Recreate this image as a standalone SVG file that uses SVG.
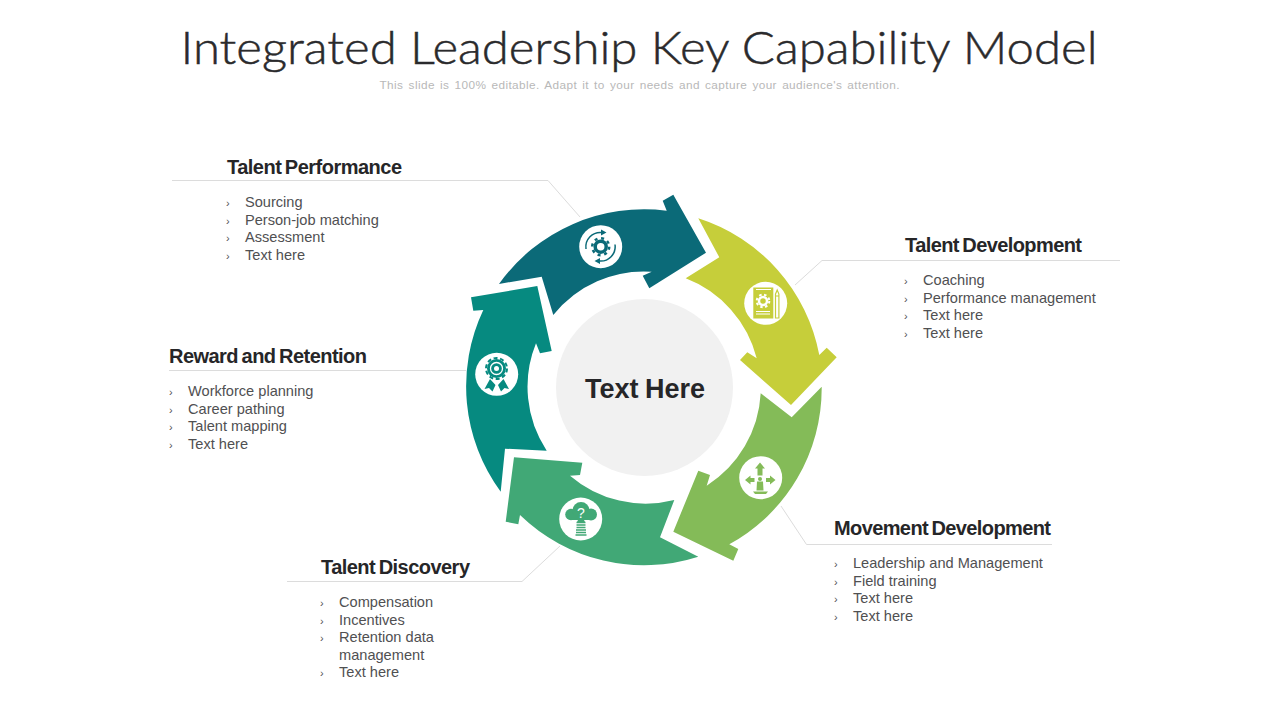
<svg xmlns="http://www.w3.org/2000/svg" width="1280" height="720" viewBox="0 0 1280 720">
<style>
text{font-family:"Liberation Sans",Arial,sans-serif}
.h{font-size:20px;font-weight:700;fill:#262628;word-spacing:-1.500px}
.b{font-size:14.600px;fill:#505052}
.m{font-size:11px;fill:#505052}
.l{fill:none;stroke:#dcdcdc;stroke-width:1}
.w{fill:#fff}
</style>
<rect width="1280" height="720" fill="#fff"/>
<g id="title">
<text x="639" y="64" text-anchor="middle" textLength="917" lengthAdjust="spacingAndGlyphs" style="font-family:'Lato','Liberation Sans',sans-serif;font-weight:300;font-size:46px;fill:#2a2a2c;stroke:#2a2a2c;stroke-width:.5px">Integrated Leadership Key Capability Model</text>
<text x="639.500" y="89" text-anchor="middle" textLength="520" style="font-size:11.800px;fill:#b8b8b8;word-spacing:1.500px">This slide is 100% editable. Adapt it to your needs and capture your audience's attention.</text>
</g>
<g id="connectors">
<path class="l" d="M172 180.500H548L580 217"/>
<path class="l" d="M1120 260.500H822L795 285"/>
<path class="l" d="M781 506L806.500 544.500H1052"/>
<path class="l" d="M287 581.500H522L560 546"/>
<path class="l" d="M169 370.500H466"/>
</g>
<g id="center"><circle cx="644.500" cy="387.500" r="88.500" fill="#f1f1f1"/><text x="645" y="398" text-anchor="middle" style="font-size:27px;font-weight:700;fill:#262628;word-spacing:-1px">Text Here</text></g>
<g id="arrow-performance">
<path fill="#0b6a78" d="M499 284A178 178 0 0 1 666.700 210.700L662.700 200.700L673.300 194.700L706 252.700L649.300 288.300L642.700 275.700L651.700 271.700A116 116 0 0 0 553.300 315L541.700 276.700Z"/>
<circle class="w" cx="600.700" cy="246.700" r="21.500"/>
<g fill="none" stroke="#0b6a78" stroke-width="1.500"><path d="M586 249A14.500 14.500 0 0 1 602 232.500"/><path d="M615 244.500A14.500 14.500 0 0 1 599 261"/></g>
<path fill="#0b6a78" d="M601 229.500l5.500 3-5.500 3zM600 258l-5.500 3 5.500 3z"/>
<circle cx="600.700" cy="246.700" r="5.500" fill="none" stroke="#0b6a78" stroke-width="3.500"/><circle cx="600.700" cy="246.700" r="8.500" fill="none" stroke="#0b6a78" stroke-width="2.500" stroke-dasharray="3 3.700"/>
</g>
<g id="arrow-development">
<path fill="#c6ce3a" d="M698.300 218.300A178 178 0 0 1 819.300 355L826.700 347.700L836.700 357.300L791 405L740 360L747.300 352.300L756.700 358.300A116 116 0 0 0 685.700 278.300L719.300 257.300Z"/>
<circle class="w" cx="765.700" cy="303.300" r="21.500"/>
<rect x="753.300" y="287.500" width="20" height="31" fill="#c6ce3a"/>
<circle cx="763" cy="301" r="4" fill="none" stroke="#fff" stroke-width="2.500"/><circle cx="763" cy="301" r="6.300" fill="none" stroke="#fff" stroke-width="2" stroke-dasharray="2.500 2.500"/>
<path stroke="#fff" stroke-width="1" fill="none" d="M756 289.500H771M756 311.500H770M756 314H770"/>
<path fill="none" stroke="#c6ce3a" stroke-width="1.200" d="M775.500 294l1.700-4 1.700 4V318H775.500ZM775.500 296H779"/>
</g>
<g id="arrow-movement">
<path fill="#84bb58" d="M821.700 386.700A178 178 0 0 1 729.300 544.300L738.300 549L733.300 560.700L673.300 531.700L698.300 470.700L710 475L706.700 485.700A117 117 0 0 0 760.700 393.300L791.700 417.300Z"/>
<circle class="w" cx="760.700" cy="477.700" r="21.500"/>
<path fill="#84bb58" d="M760 462.500l5 6h-2.500v7h-5v-7H755zM745 480l5.500-4.500v2.500h4v4h-4v2.500zM775.500 480l-5.500-4.500v2.500h-4v4h4v2.500z"/>
<circle cx="760" cy="479" r="2" fill="#84bb58"/><path fill="#84bb58" d="M757 481.500h6l.5 9h-7zM753 491.500h15l-2 2.500h-11z"/>
</g>
<g id="arrow-discovery">
<path fill="#41a876" d="M698.300 556.700A178 178 0 0 1 520 515L518.300 524.300L505.700 521.700L514 457.300L582.300 462.700L580 475L570 475.700A116 116 0 0 0 674.300 500L660 537.300Z"/>
<circle class="w" cx="580.700" cy="519" r="21.500"/>
<circle cx="571" cy="514.500" r="5.800" fill="#41a876"/><circle cx="581" cy="510.500" r="8.500" fill="#41a876"/><circle cx="591" cy="514.500" r="6" fill="#41a876"/>
<path fill="#41a876" d="M571 515h20v5h-7l1 2h-8l1-2h-7z"/>
<text x="581" y="518" text-anchor="middle" style="font-size:14px;fill:#fff">?</text>
<path stroke="#41a876" stroke-width="1.300" fill="none" d="M576.500 522.500h9M576.500 525h9M576.500 527.500h9M576 530h10M576 532.500h10M575.500 535h11"/>
</g>
<g id="arrow-retention">
<path fill="#068a80" d="M500.700 491.700A178 178 0 0 1 483.300 310L473.300 310.700L471 297.300L537.300 286L551.700 351L540 353.300L536 343.300A116 116 0 0 0 546.700 450.700L505 448.700Z"/>
<circle class="w" cx="496.700" cy="374.300" r="21.500"/>
<circle cx="496.500" cy="368.500" r="9.500" fill="#068a80"/><circle cx="496.500" cy="368.500" r="10.500" fill="none" stroke="#068a80" stroke-width="2" stroke-dasharray="4 2.600"/>
<circle cx="496.500" cy="368.500" r="6" fill="none" stroke="#fff" stroke-width="1.300"/><circle cx="496.500" cy="368.500" r="2.500" fill="#fff"/>
<path fill="#068a80" d="M490 379l5.500 6-3 6.500-3.500-3.500-4.500 1zM503.500 379l-5.500 6 3 6.500 3.500-3.500 4.500 1z"/>
</g>
<g id="label-performance">
<text class="h" x="227" y="174" textLength="175">Talent Performance</text>
<text class="m" x="226" y="207">›</text><text class="b" x="245" y="207">Sourcing</text>
<text class="m" x="226" y="225">›</text><text class="b" x="245" y="225">Person-job matching</text>
<text class="m" x="226" y="242">›</text><text class="b" x="245" y="242">Assessment</text>
<text class="m" x="226" y="260">›</text><text class="b" x="245" y="260">Text here</text>
</g>
<g id="label-development">
<text class="h" x="905" y="252" textLength="177">Talent Development</text>
<text class="m" x="904" y="285">›</text><text class="b" x="923" y="285">Coaching</text>
<text class="m" x="904" y="303">›</text><text class="b" x="923" y="303">Performance management</text>
<text class="m" x="904" y="320">›</text><text class="b" x="923" y="320">Text here</text>
<text class="m" x="904" y="338">›</text><text class="b" x="923" y="338">Text here</text>
</g>
<g id="label-movement">
<text class="h" x="834" y="535" textLength="217">Movement Development</text>
<text class="m" x="834" y="568">›</text><text class="b" x="853" y="568">Leadership and Management</text>
<text class="m" x="834" y="586">›</text><text class="b" x="853" y="586">Field training</text>
<text class="m" x="834" y="603">›</text><text class="b" x="853" y="603">Text here</text>
<text class="m" x="834" y="621">›</text><text class="b" x="853" y="621">Text here</text>
</g>
<g id="label-discovery">
<text class="h" x="321" y="574" textLength="149">Talent Discovery</text>
<text class="m" x="320" y="607">›</text><text class="b" x="339" y="607">Compensation</text>
<text class="m" x="320" y="625">›</text><text class="b" x="339" y="625">Incentives</text>
<text class="m" x="320" y="642">›</text><text class="b" x="339" y="642">Retention data</text>
<text class="b" x="339" y="660">management</text>
<text class="m" x="320" y="677">›</text><text class="b" x="339" y="677">Text here</text>
</g>
<g id="label-retention">
<text class="h" x="169" y="363" textLength="198">Reward and Retention</text>
<text class="m" x="169" y="396">›</text><text class="b" x="188" y="396">Workforce planning</text>
<text class="m" x="169" y="414">›</text><text class="b" x="188" y="414">Career pathing</text>
<text class="m" x="169" y="431">›</text><text class="b" x="188" y="431">Talent mapping</text>
<text class="m" x="169" y="449">›</text><text class="b" x="188" y="449">Text here</text>
</g>
</svg>
